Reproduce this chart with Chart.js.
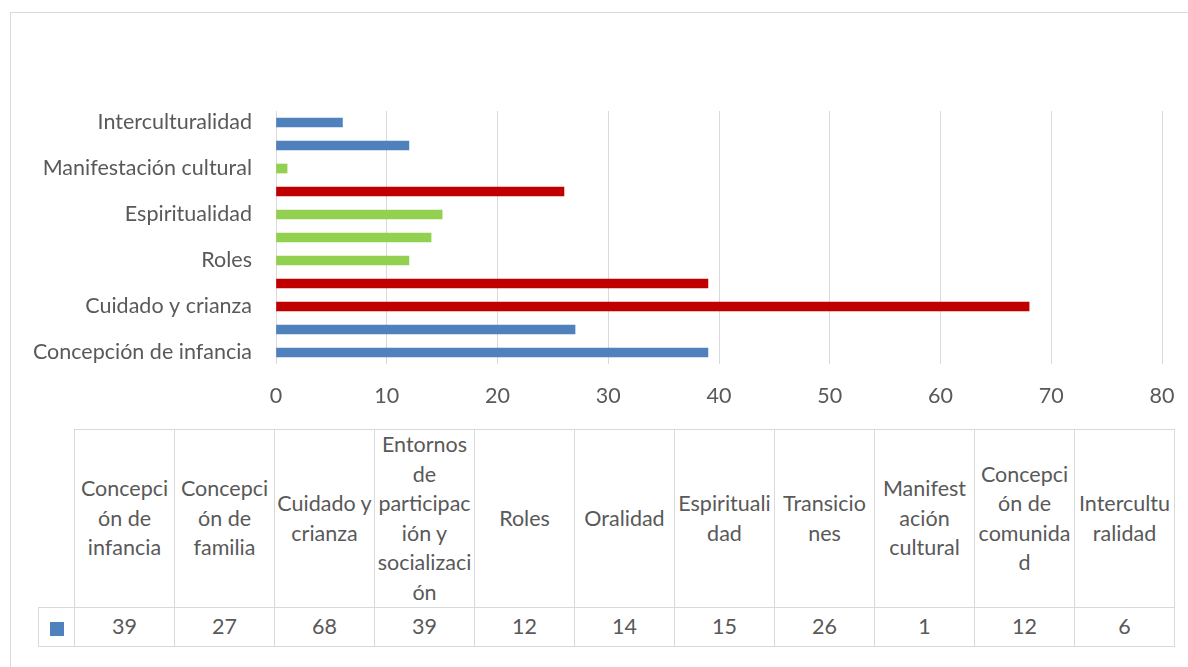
<!DOCTYPE html>
<html>
<head>
<meta charset="utf-8">
<script src="https://cdn.jsdelivr.net/npm/chart.js@4.4.1/dist/chart.umd.min.js"></script>
<style>
  body { margin: 0; background: #fff; font-family: Lato, "Open Sans", sans-serif; }
  #frame { position: absolute; left: 10px; top: 12px; width: 1200px; height: 700px; border: 1px solid #d9d9d9; }
  #chart { position: absolute; left: 0; top: 0; }
  #dataTable { position: absolute; left: 38px; top: 429px; border-collapse: collapse; table-layout: fixed; color: #595959; font-size: 21.5px; }
  #dataTable td { border: 1px solid #d9d9d9; text-align: center; padding: 0; line-height: 29.5px; white-space: nowrap; overflow: visible; }
  #dataTable tr.head td { height: 174px; }
  #dataTable tr.vals td { height: 38px; }
  #dataTable td.blank { border: none; }
  .key { display: inline-block; width: 14px; height: 14px; background: #4f81bd; vertical-align: middle; }
</style>
</head>
<body>
<div id="frame"></div>
<canvas id="chart" width="1188" height="420"></canvas>
<table id="dataTable"></table>
<script>
// ==================
// Data
// ==================
const categories = [
  "Concepción de infancia", "Concepción de familia", "Cuidado y crianza",
  "Entornos de participación y socialización", "Roles", "Oralidad",
  "Espiritualidad", "Transiciones", "Manifestación cultural",
  "Concepción de comunidad", "Interculturalidad"
];
const values = [39, 27, 68, 39, 12, 14, 15, 26, 1, 12, 6];
const groups = ["a", "a", "b", "b", "c", "c", "c", "b", "c", "a", "a"];
const xTicks = [0, 10, 20, 30, 40, 50, 60, 70, 80];
// table header text, wrapped the way the original shows it
const headerLines = [
  ["Concepci", "ón de", "infancia"],
  ["Concepci", "ón de", "familia"],
  ["Cuidado y", "crianza"],
  ["Entornos", "de", "participac", "ión y", "socializaci", "ón"],
  ["Roles"],
  ["Oralidad"],
  ["Espirituali", "dad"],
  ["Transicio", "nes"],
  ["Manifest", "ación", "cultural"],
  ["Concepci", "ón de", "comunida", "d"],
  ["Intercultu", "ralidad"]
];

const groupColors = { a: "#4f81bd", b: "#c00000", c: "#92d050" };
const textColor = "#595959";
const font = { family: "Lato, 'Open Sans', sans-serif", size: 21.5 };

// ==================
// Bar chart
// ==================
new Chart(document.getElementById("chart").getContext("2d"), {
  type: "bar",
  data: {
    labels: categories,
    datasets: [{
      data: values,
      backgroundColor: groups.map(g => groupColors[g]),
      barThickness: 9
    }]
  },
  options: {
    indexAxis: "y",
    responsive: false,
    animation: false,
    layout: { padding: { top: 111, right: 26, left: 0, bottom: 0 } },
    plugins: { legend: { display: false }, tooltip: { enabled: false } },
    scales: {
      x: {
        min: xTicks[0],
        max: xTicks[xTicks.length - 1],
        afterBuildTicks: s => { s.ticks = xTicks.map(v => ({ value: v })); },
        grid: { color: "#d9d9d9", drawTicks: false },
        border: { display: false },
        ticks: { color: textColor, font: font, padding: 19 },
        // tick padding would otherwise widen the right margin
        afterFit: s => { s.height = 56; s.paddingRight = 0; s.paddingLeft = 0; }
      },
      y: {
        reverse: true,
        grid: { display: false },
        border: { display: false },
        ticks: {
          autoSkip: false,
          color: textColor,
          font: font,
          padding: 16,
          callback: function (v, i) { return i % 2 === 0 ? this.getLabelForValue(v) : ""; }
        },
        afterFit: s => { s.width = 276; }
      }
    }
  }
});

// ==================
// Data table under the chart
// ==================
const table = document.getElementById("dataTable");
let html = '<colgroup><col style="width:36px">' + categories.map(() => '<col style="width:100px">').join("") + '</colgroup>';
html += '<tr class="head"><td class="blank"></td>' + headerLines.map(l => `<td>${l.join("<br>")}</td>`).join("") + '</tr>';
html += '<tr class="vals"><td><span class="key"></span></td>' + values.map(v => `<td>${v}</td>`).join("") + '</tr>';
table.innerHTML = html;
</script>
</body>
</html>
